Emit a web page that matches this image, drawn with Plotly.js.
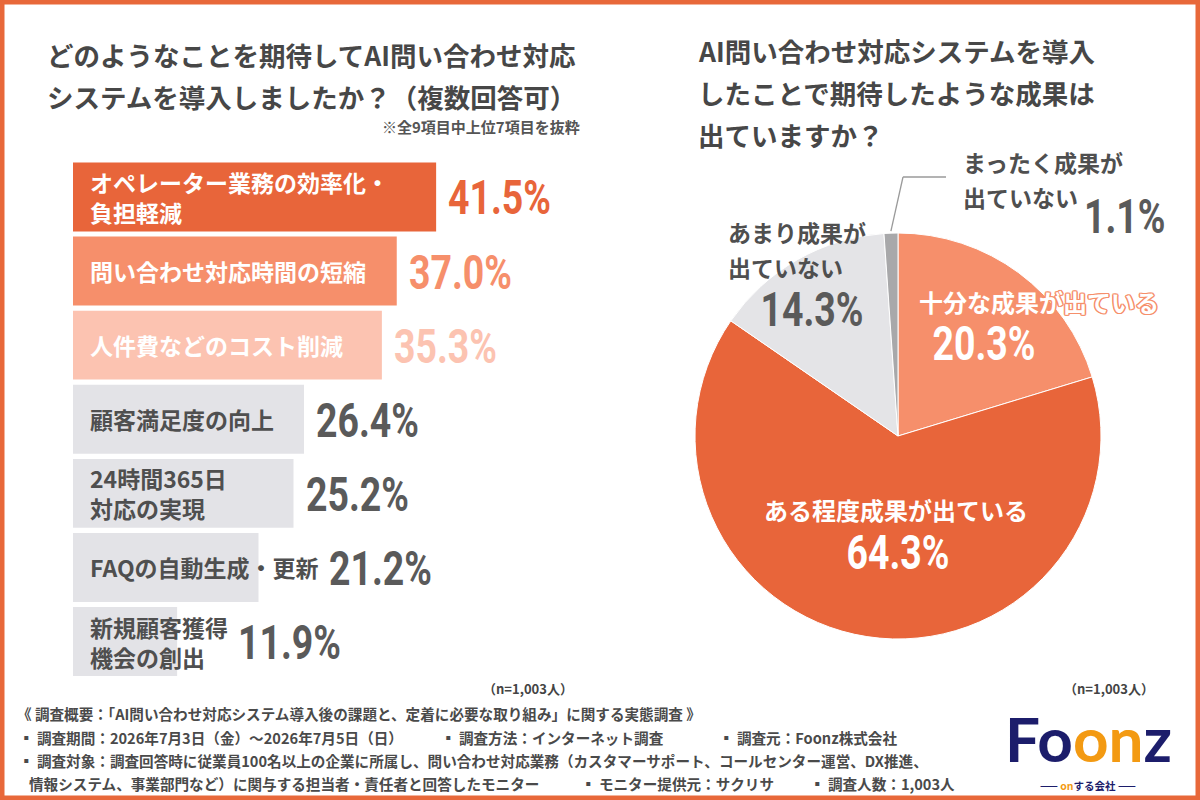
<!DOCTYPE html>
<html>
<head>
<meta charset="utf-8">
<script src="https://cdn.plot.ly/plotly-3.0.1.min.js"></script>
<style>
  html, body { margin: 0; padding: 0; background: #ffffff; }
  #chart { width: 1200px; height: 800px; }
</style>
</head>
<body>
<div id="chart"></div>
<script>
// 期待した効果（複数回答・上位7項目）
const expectItems = [
  'オペレーター業務の効率化・<br>負担軽減',
  '問い合わせ対応時間の短縮',
  '人件費などのコスト削減',
  '顧客満足度の向上',
  '24時間365日<br>対応の実現',
  'FAQの自動生成・更新',
  '新規顧客獲得<br>機会の創出'
];
const expectValues = [41.5, 37.0, 35.3, 26.4, 25.2, 21.2, 11.9];

// 期待した成果が出ているか
const resultLabels = ['十分な成果が出ている', 'ある程度成果が出ている', 'あまり成果が出ていない', 'まったく成果が出ていない'];
const resultValues = [20.3, 64.3, 14.3, 1.1];

const sampleNote = '（n=1,003人）';

// ---- styling ----
const W = 1200, H = 800;
const px = x => x / W;
const py = y => 1 - y / H;

const ORANGE = '#e8653a';
const SALMON = '#f68f6b';
const PEACH = '#fcc3b1';
const LIGHT = '#e3e3e7';
const TEXT = '#4f4f4f';
const VALUE_GRAY = '#5a5a5a';
const JP = '"Noto Sans CJK JP", "Noto Sans", sans-serif';
const NUM = 'Roboto, "Liberation Sans", sans-serif';
const NUM_SIZE = 48;
const NUM_SQUEEZE = 0.78;     // narrow the percentage figures horizontally

const barColors = [ORANGE, SALMON, PEACH, LIGHT, LIGHT, LIGHT, LIGHT];
const labelColors = ['#ffffff', '#ffffff', '#ffffff', TEXT, TEXT, TEXT, TEXT];
const valueColors = [ORANGE, SALMON, PEACH, VALUE_GRAY, VALUE_GRAY, VALUE_GRAY, VALUE_GRAY];
const sliceColors = [SALMON, ORANGE, '#e4e4e7', '#a8a8aa'];

// bar axis geometry
const BAR_X0 = 73;
const BAR_X1 = 600;
const PX_PER_PCT = 8.75;
const BAR_TOP = 159.9, BAR_BOTTOM = 678.6;
const LABEL_PAD = 15, LABEL_SIZE = 23, VALUE_GAP = 10;

// measure label widths so values never collide with long labels
const ctx = document.createElement('canvas').getContext('2d');
ctx.font = '700 ' + LABEL_SIZE + 'px "Noto Sans CJK JP"';
function labelWidth(t) {
  return Math.max(...t.split('<br>').map(s => ctx.measureText(s).width));
}

const annotations = [];
const shapes = [];
const squeezed = [];   // [annotation index, anchor fraction]

function txt(x, y, text, size, color, opts) {
  annotations.push(Object.assign({
    x: px(x), y: py(y), xref: 'paper', yref: 'paper',
    text: text, showarrow: false, xanchor: 'left', yanchor: 'middle',
    font: { family: JP, size: size, color: color, weight: 700 }
  }, opts || {}));
}
function pct(x, y, v, color, anchor) {
  txt(x, y, v.toFixed(1) + '%', NUM_SIZE, color, {
    xanchor: anchor, font: { family: NUM, size: NUM_SIZE, color: color, weight: 700 }
  });
  squeezed.push([annotations.length - 1, { left: 0, center: 0.5, right: 1 }[anchor]]);
}

// titles
txt(45, 54, 'どのようなことを期待してAI問い合わせ対応', 26.5, '#474747');
txt(45, 96, 'システムを導入しましたか？（複数回答可）', 26.5, '#474747');
txt(582, 127, '※全9項目中上位7項目を抜粋', 15, '#555555', { xanchor: 'right' });

txt(696, 50, 'AI問い合わせ対応システムを導入', 26.5, '#474747');
txt(696, 92, 'したことで期待したような成果は', 26.5, '#474747');
txt(696, 134, '出ていますか？', 26.5, '#474747');

// bar labels and values
expectItems.forEach((label, i) => {
  annotations.push({
    x: 0, y: i, xref: 'x', yref: 'y', text: label, showarrow: false,
    xanchor: 'left', yanchor: 'middle', xshift: LABEL_PAD, align: 'left',
    font: { family: JP, size: LABEL_SIZE, color: labelColors[i], weight: 700 }
  });
  const v = expectValues[i];
  const barEnd = v * PX_PER_PCT;
  const labelEnd = LABEL_PAD + labelWidth(label);
  const shift = Math.max(barEnd, labelEnd) - barEnd + VALUE_GAP;
  annotations.push({
    x: v, y: i, xref: 'x', yref: 'y', text: v.toFixed(1) + '%', showarrow: false,
    xanchor: 'left', yanchor: 'middle', xshift: shift, yshift: -1,
    font: { family: NUM, size: NUM_SIZE, color: valueColors[i], weight: 700 }
  });
  squeezed.push([annotations.length - 1, 0]);
});

// pie geometry
const PIE_CX = 898, PIE_CY = 436, PIE_R = 203;

// pie labels
txt(961, 162, 'まったく成果が', 23, TEXT);
txt(961, 197, '出ていない', 23, TEXT);
pct(1167, 216, resultValues[3], VALUE_GRAY, 'right');

txt(726, 232, 'あまり成果が', 23, TEXT);
txt(726, 267, '出ていない', 23, TEXT);
pct(812, 309, resultValues[2], VALUE_GRAY, 'center');

const outline = ['1px 1px 0', '-1px -1px 0', '1px -1px 0', '-1px 1px 0', '1.4px 0 0', '-1.4px 0 0', '0 1.4px 0', '0 -1.4px 0']
  .map(s => s + ' ' + SALMON).join(', ');
txt(917, 301, resultLabels[0], 24, '#ffffff', { font: { family: JP, size: 24, color: '#ffffff', weight: 700, shadow: outline } });
pct(984, 344, resultValues[0], '#ffffff', 'center');

txt(896, 509, resultLabels[1], 24, '#ffffff', { xanchor: 'center' });
pct(898, 552, resultValues[1], '#ffffff', 'center');

// leader line for the smallest slice, starting at its mid angle
const before = resultValues.slice(0, 3).reduce((a, b) => a + b, 0);
const total = resultValues.reduce((a, b) => a + b, 0);
const midAng = (before + resultValues[3] / 2) / total * 2 * Math.PI;
const lx0 = PIE_CX + (PIE_R + 2) * Math.sin(midAng);
const ly0 = PIE_CY - (PIE_R + 2) * Math.cos(midAng);
shapes.push({ type: 'line', xref: 'paper', yref: 'paper', x0: px(lx0), y0: py(ly0), x1: px(903), y1: py(177), line: { color: '#9a9a9a', width: 1.3 } });
shapes.push({ type: 'line', xref: 'paper', yref: 'paper', x0: px(903), y0: py(177), x1: px(946), y1: py(177), line: { color: '#9a9a9a', width: 1.3 } });

// sample sizes
txt(575, 688, sampleNote, 13, '#444444', { xanchor: 'right' });
txt(1156, 688, sampleNote, 13, '#444444', { xanchor: 'right' });

// survey outline
const FS = 14.6, FC = '#4a4a4a';
txt(15, 713, '《 調査概要：「AI問い合わせ対応システム導入後の課題と、定着に必要な取り組み」に関する実態調査 》', FS, FC);
txt(17, 737, '▪ 調査期間：2026年7月3日（金）〜2026年7月5日（日）', FS, FC);
txt(439, 737, '▪ 調査方法：インターネット調査', FS, FC);
txt(717, 737, '▪ 調査元：Foonz株式会社', FS, FC);
txt(17, 760, '▪ 調査対象：調査回答時に従業員100名以上の企業に所属し、問い合わせ対応業務（カスタマーサポート、コールセンター運営、DX推進、', FS, FC);
txt(27, 783, '情報システム、事業部門など）に関与する担当者・責任者と回答したモニター', FS, FC);
txt(579, 783, '▪ モニター提供元：サクリサ', FS, FC);
txt(808, 783, '▪ 調査人数：1,003人', FS, FC);

// logo
const NAVY = '#1c1d6b', GOLD = '#f39a12';
annotations.push({
  x: px(1088), y: py(738), xref: 'paper', yref: 'paper', showarrow: false,
  xanchor: 'center', yanchor: 'middle',
  text: '<span style="color:' + NAVY + '">Fo</span><span style="color:' + GOLD + '">on</span><span style="color:' + NAVY + '">z</span>',
  font: { family: 'Lato, "Open Sans", sans-serif', size: 62, color: NAVY, weight: 700 }
});
annotations.push({
  x: px(1088), y: py(785), xref: 'paper', yref: 'paper', showarrow: false,
  xanchor: 'center', yanchor: 'middle',
  text: '—— <span style="color:' + GOLD + '">on</span>する会社 ——',
  font: { family: JP, size: 10.5, color: NAVY, weight: 700 }
});

// frame
shapes.push({ type: 'rect', xref: 'paper', yref: 'paper', x0: 0, y0: 0, x1: 1, y1: 1, line: { color: '#e8683a', width: 9 }, layer: 'above' });

const traces = [
  {
    type: 'bar', orientation: 'h',
    x: expectValues, y: expectValues.map((_, i) => i),
    width: 0.93,
    marker: { color: barColors, line: { width: 0 } },
    hoverinfo: 'skip', xaxis: 'x', yaxis: 'y'
  },
  {
    type: 'pie',
    values: resultValues, labels: resultLabels,
    sort: false, direction: 'clockwise', rotation: 0,
    marker: { colors: sliceColors, line: { color: '#ffffff', width: 1 } },
    textinfo: 'none', hoverinfo: 'skip',
    domain: { x: [px(PIE_CX - PIE_R), px(PIE_CX + PIE_R)], y: [py(PIE_CY + PIE_R), py(PIE_CY - PIE_R)] }
  }
];

const layout = {
  width: W, height: H,
  margin: { l: 0, r: 0, t: 0, b: 0, pad: 0 },
  paper_bgcolor: '#ffffff', plot_bgcolor: 'rgba(0,0,0,0)',
  showlegend: false,
  xaxis: { domain: [px(BAR_X0), px(BAR_X1)], range: [0, (BAR_X1 - BAR_X0) / PX_PER_PCT], visible: false, fixedrange: true },
  yaxis: { domain: [py(BAR_BOTTOM), py(BAR_TOP)], range: [6.5, -0.5], visible: false, fixedrange: true },
  annotations: annotations,
  shapes: shapes
};

// condensed look for the percentage figures: squeeze each one about its anchor edge
function squeezeFigures(gd) {
  squeezed.forEach(([idx, frac]) => {
    const t = gd.querySelector('.annotation[data-index="' + idx + '"] text.annotation-text');
    if (!t) return;
    const b = t.getBBox();
    const a = b.x + b.width * frac;
    t.setAttribute('transform', 'translate(' + a + ',0) scale(' + NUM_SQUEEZE + ',1) translate(' + (-a) + ',0)');
  });
}

Plotly.newPlot('chart', traces, layout, { staticPlot: true, displayModeBar: false }).then(squeezeFigures);
</script>
</body>
</html>
